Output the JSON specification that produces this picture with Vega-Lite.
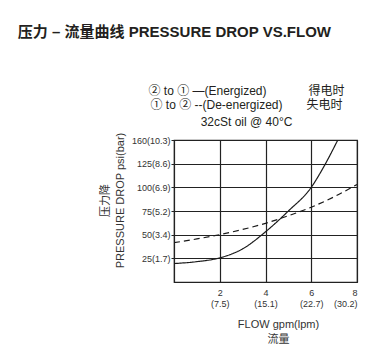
{
  "$schema": "https://vega.github.io/schema/vega-lite/v6.json",
  "padding": {"left": 17, "top": 24, "right": 5, "bottom": 5},
  "background": "white",
  "title": {
    "text": "压力 – 流量曲线 PRESSURE DROP VS.FLOW",
    "anchor": "start",
    "frame": "bounds",
    "dx": -81,
    "font": "Liberation Sans, Noto Sans CJK SC",
    "fontSize": 15,
    "fontWeight": "bold",
    "color": "#231f20",
    "offset": 45
  },
  "config": {
    "font": "Liberation Sans, Noto Sans CJK SC",
    "view": {"stroke": "#222", "strokeWidth": 1.2},
    "axis": {
      "domainColor": "#222",
      "domainWidth": 1.2,
      "gridColor": "#222",
      "gridWidth": 1.2,
      "gridOpacity": 1,
      "labelColor": "#333",
      "titleColor": "#333",
      "labelFont": "Liberation Sans",
      "titleFont": "Liberation Sans, Noto Sans CJK SC",
      "titleFontWeight": "normal"
    }
  },
  "vconcat": [
    {
      "width": 183,
      "height": 142,
      "title": {
        "text": ["② to ① —(Energized)\u2003\u2003\u2003\u2002得电时", "① to ② --(De-energized)\u2003\u2003失电时"],
        "subtitle": "32cSt oil @ 40°C",
        "anchor": "middle",
        "frame": "group",
        "dx": -19,
        "font": "Liberation Sans, Noto Sans CJK SC",
        "subtitleFont": "Liberation Sans",
        "fontSize": 12,
        "fontWeight": "normal",
        "subtitleFontSize": 12,
        "lineHeight": 14,
        "subtitleLineHeight": 14,
        "subtitlePadding": 5,
        "color": "#231f20",
        "subtitleColor": "#231f20",
        "offset": 3
      },
      "data": {
        "values": [
          {"mode": "Energized", "gpm": 0, "psi": 19.5},
          {"mode": "Energized", "gpm": 1, "psi": 21.5},
          {"mode": "Energized", "gpm": 2, "psi": 25.5},
          {"mode": "Energized", "gpm": 3, "psi": 35},
          {"mode": "Energized", "gpm": 4, "psi": 53},
          {"mode": "Energized", "gpm": 5, "psi": 75},
          {"mode": "Energized", "gpm": 6, "psi": 100},
          {"mode": "Energized", "gpm": 6.6, "psi": 124},
          {"mode": "Energized", "gpm": 7.16, "psi": 150},
          {"mode": "De-energized", "gpm": 0, "psi": 41.5},
          {"mode": "De-energized", "gpm": 1, "psi": 45.5},
          {"mode": "De-energized", "gpm": 2, "psi": 50},
          {"mode": "De-energized", "gpm": 3, "psi": 55.5},
          {"mode": "De-energized", "gpm": 4, "psi": 62},
          {"mode": "De-energized", "gpm": 5, "psi": 70},
          {"mode": "De-energized", "gpm": 6, "psi": 79},
          {"mode": "De-energized", "gpm": 7, "psi": 90},
          {"mode": "De-energized", "gpm": 8, "psi": 103}
        ]
      },
      "mark": {"type": "line", "interpolate": "monotone", "color": "#1a1a1a", "strokeWidth": 1.2, "clip": true},
      "encoding": {
        "x": {
          "field": "gpm",
          "type": "quantitative",
          "scale": {"domain": [0, 8], "nice": false},
          "axis": {
            "values": [2, 4, 6, 8],
            "labelExpr": "[datum.label, datum.value == 2 ? '(7.5)' : datum.value == 4 ? '(15.1)' : datum.value == 6 ? '(22.7)' : '(30.2)']",
            "ticks": false,
            "labelFontSize": 9,
            "labelLineHeight": 11,
            "labelPadding": 6,
            "title": ["FLOW gpm(lpm)", "流量"],
            "titleFontSize": 11,
            "titleLineHeight": 15,
            "titleX": 104,
            "titlePadding": 10
          }
        },
        "y": {
          "field": "psi",
          "type": "quantitative",
          "scale": {"domain": [0, 150], "nice": false},
          "axis": {
            "values": [25, 50, 75, 100, 125, 150],
            "labelExpr": "datum.value == 150 ? '160(10.3)' : datum.value == 125 ? '125(8.6)' : datum.value == 100 ? '100(6.9)' : datum.value == 75 ? '75(5.2)' : datum.value == 50 ? '50(3.4)' : '25(1.7)'",
            "tickSize": 3,
            "tickColor": "#222",
            "labelPadding": 1,
            "labelFontSize": 9,
            "title": ["压力降", "PRESSURE DROP psi(bar)"],
            "titleFontSize": 11,
            "titleLineHeight": 15,
            "titleY": 60,
            "titlePadding": 6
          }
        },
        "strokeDash": {
          "field": "mode",
          "type": "nominal",
          "scale": {"domain": ["Energized", "De-energized"], "range": [[1, 0], [6, 4]]},
          "legend": null
        }
      }
    }
  ]
}
